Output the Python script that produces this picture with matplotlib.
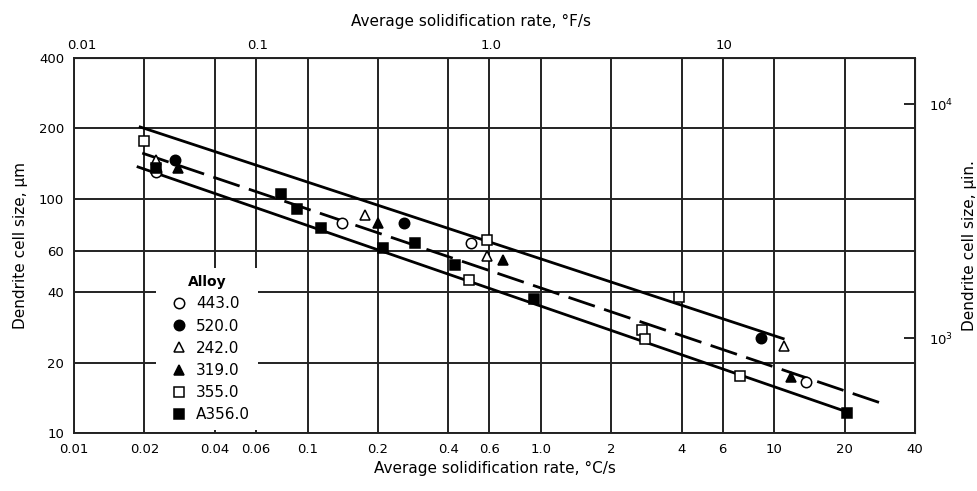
import matplotlib
matplotlib.use("Agg")
import matplotlib.pyplot as plt
from matplotlib.ticker import NullLocator

# bottom axis (°C/s) and left axis (µm) data
alloy_443_x = [0.0225, 0.14, 0.50, 13.7]
alloy_443_y = [130, 79, 65, 16.5]
alloy_520_x = [0.027, 0.26, 8.8]
alloy_520_y = [147, 79, 25.5]
alloy_242_x = [0.0225, 0.177, 0.59, 11.0]
alloy_242_y = [146, 85, 57, 23.5]
alloy_319_x = [0.028, 0.20, 0.69, 11.8]
alloy_319_y = [135, 79, 55, 17.3]
alloy_355_x = [0.02, 0.49, 0.585, 2.7, 2.8, 3.9, 7.1]
alloy_355_y = [176, 45, 67, 27.5, 25.2, 38, 17.5]
alloy_A356_x = [0.0225, 0.077, 0.09, 0.114, 0.21, 0.29, 0.43, 0.93, 20.4]
alloy_A356_y = [136, 105, 91, 75, 62, 65, 52, 37.5, 12.2]

upper_x = [0.0192, 10.9]
upper_y = [203, 25.3]
mean_x = [0.0196, 29.4]
mean_y = [157, 13.3]
lower_x = [0.0188, 20.5]
lower_y = [137, 12.3]

x_ticks = [0.01, 0.02, 0.04, 0.06, 0.1, 0.2, 0.4, 0.6, 1.0, 2, 4, 6, 10, 20, 40]
x_labels = ["0.01", "0.02", "0.04", "0.06", "0.1", "0.2", "0.4", "0.6", "1.0",
            "2", "4", "6", "10", "20", "40"]
y_ticks = [10, 20, 40, 60, 100, 200, 400]
y_labels = ["10", "20", "40", "60", "100", "200", "400"]
top_tick_pos = [0.0108, 0.061, 0.61, 6.1]
top_labels = ["0.01", "0.1", "1.0", "10"]
right_ticks = [1e3, 1e4]
right_labels = [r"10$^3$", r"10$^4$"]
UM_TO_UIN = 39.37

plt.rcParams['font.family'] = ['DejaVu Sans']

fig = plt.figure(figsize=(9.78, 4.91), dpi=100)
ax = fig.add_axes([0.0757, 0.1181, 0.8599, 0.7637])
ax.set_xscale('log')
ax.set_yscale('log')
ax.set_xlim(0.01, 40)
ax.set_ylim(10, 400)

ax.set_xticks(x_ticks)
ax.set_xticklabels(x_labels)
ax.set_yticks(y_ticks)
ax.set_yticklabels(y_labels)
ax.xaxis.set_minor_locator(NullLocator())
ax.yaxis.set_minor_locator(NullLocator())
ax.tick_params(axis='both', which='major', length=0, labelsize=9.5, pad=7)
ax.grid(True, color='#222222', linewidth=1.4)
for s in ax.spines.values():
    s.set_linewidth(1.4)
    s.set_color('#222222')

ax.plot(upper_x, upper_y, color='black', linewidth=2, zorder=3)
ax.plot(lower_x, lower_y, color='black', linewidth=2, zorder=3)
ax.plot(mean_x, mean_y, color='black', linewidth=2, dashes=(10, 3.5), zorder=3)

ms = 7.5
kw = dict(linestyle='none', markeredgecolor='black', markeredgewidth=1.1, zorder=4)
ax.plot(alloy_443_x, alloy_443_y, marker='o', markersize=ms, markerfacecolor='white', label='443.0', **kw)
ax.plot(alloy_520_x, alloy_520_y, marker='o', markersize=ms, markerfacecolor='black', label='520.0', **kw)
ax.plot(alloy_242_x, alloy_242_y, marker='^', markersize=ms, markerfacecolor='white', label='242.0', **kw)
ax.plot(alloy_319_x, alloy_319_y, marker='^', markersize=ms, markerfacecolor='black', label='319.0', **kw)
ax.plot(alloy_355_x, alloy_355_y, marker='s', markersize=ms, markerfacecolor='white', label='355.0', **kw)
ax.plot(alloy_A356_x, alloy_A356_y, marker='s', markersize=ms, markerfacecolor='black', label='A356.0', **kw)

leg = ax.legend(title='Alloy', loc='lower left', bbox_to_anchor=(0.098, 0.008),
                frameon=True, fancybox=False, framealpha=1, edgecolor='none',
                facecolor='white', fontsize=11, handlelength=2.0,
                handletextpad=0.1, labelspacing=0.47, borderpad=0.5,
                borderaxespad=0)
leg.get_title().set_fontweight('bold')
leg.get_title().set_fontsize(10)
leg.set_zorder(5)

ax.set_xlabel("Average solidification rate, °C/s", fontsize=11, labelpad=4)
ax.set_ylabel("Dendrite cell size, µm", fontsize=11, labelpad=8)

top = ax.secondary_xaxis('top')
top.set_xticks(top_tick_pos)
top.set_xticklabels(top_labels)
top.xaxis.set_minor_locator(NullLocator())
top.tick_params(length=0, labelsize=9.5, pad=4)
top.set_xlabel("Average solidification rate, °F/s", fontsize=11, labelpad=10)
top.xaxis.label.set_x(0.472)

right = ax.secondary_yaxis('right', functions=(lambda v: v * UM_TO_UIN,
                                               lambda v: v / UM_TO_UIN))
right.set_yticks(right_ticks)
right.set_yticklabels(right_labels)
right.yaxis.set_minor_locator(NullLocator())
right.tick_params(direction='in', length=8, width=1.2, labelsize=9.5, pad=10)
right.set_ylabel("Dendrite cell size, µin.", fontsize=11, labelpad=6)

fig.savefig("out.png", dpi=100)
